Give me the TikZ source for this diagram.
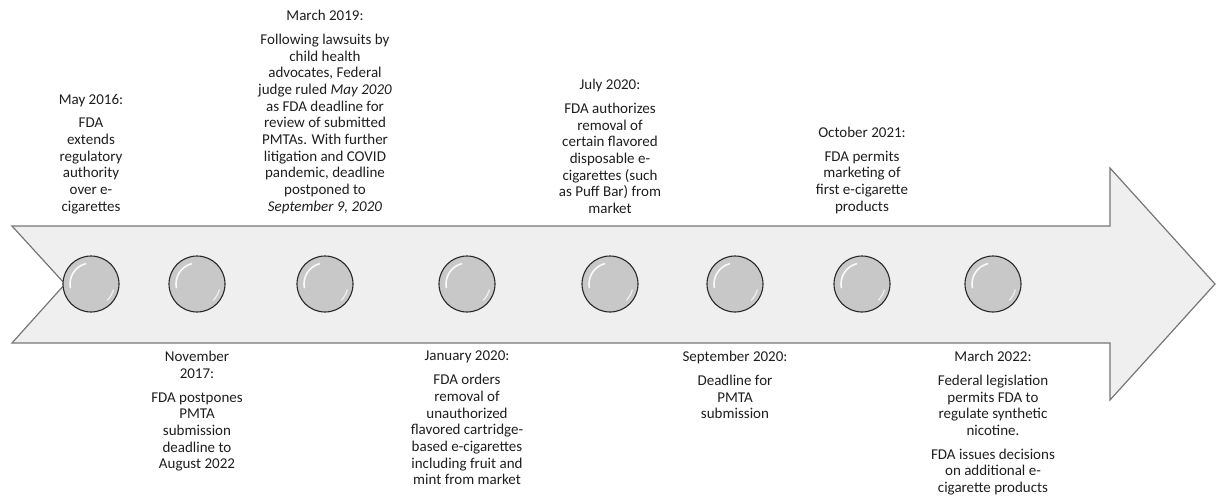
\documentclass[tikz,border=0pt]{standalone}
\usepackage{fontspec}
\setmainfont{Carlito}
\usetikzlibrary{calc}
\definecolor{ArrowFill}{RGB}{239,239,239}
\definecolor{ArrowLine}{RGB}{118,118,118}
\definecolor{BallFill}{RGB}{200,200,200}
\definecolor{BallLine}{RGB}{40,40,40}
\definecolor{TextDark}{RGB}{30,30,30}

\begin{document}
\begin{tikzpicture}[x=1pt,y=-1pt,
  ball/.style={circle,draw=BallLine,fill=BallFill,line width=1.1pt,minimum size=56pt,inner sep=0pt},
  event/.style={align=center,text=TextDark,inner sep=0pt,font=\fontsize{15}{16.7}\selectfont},
  topevent/.style={event,anchor=south},
  lowevent/.style={event,anchor=north}]
  \useasboundingbox (0,0) rectangle (1216,496);
  % timeline arrow
  \draw[ArrowLine,fill=ArrowFill,line width=1.2pt]
    (12,226) -- (1110,226) -- (1110,168) -- (1215,284) -- (1110,400)
    -- (1110,343) -- (12,343) -- (65,284) -- cycle;
  % milestones
  \foreach \n/\x in {1/91,2/197,3/325,4/467,5/610,6/735,7/862,8/993}{
    \node[ball] (c\n) at (\x,284) {};
    \draw[white,line width=1.6pt,line cap=round,opacity=0.9]
      ($(c\n)+(105:21pt)$) arc[start angle=105,end angle=190,radius=21pt];
    \draw[white,line width=1.3pt,line cap=round,opacity=0.7]
      ($(c\n)+(-15:23pt)$) arc[start angle=-15,end angle=-45,radius=23pt];
  }
  % events above
  \node[topevent] (may16) at (91,214) {May 2016:\\[7pt]FDA\\extends\\regulatory\\authority\\over e-\\cigarettes};
  \node[topevent] (mar19) at (325,214) {March 2019:\\[7pt]Following lawsuits by\\child health\\advocates, Federal\\judge ruled \textit{May 2020}\\as FDA deadline for\\review of submitted\\PMTAs. With further\\litigation and COVID\\pandemic, deadline\\postponed to\\\textit{September 9, 2020}};
  \node[topevent] (jul20) at (610,214) {July 2020:\\[7pt]FDA authorizes\\removal of\\certain flavored\\disposable e-\\cigarettes (such\\as Puff Bar) from\\market};
  \node[topevent] (oct21) at (862,214) {October 2021:\\[7pt]FDA permits\\marketing of\\first e-cigarette\\products};
  % events below
  \node[lowevent] (nov17) at (197,351) {November\\2017:\\[7pt]FDA postpones\\PMTA\\submission\\deadline to\\August 2022};
  \node[lowevent] (jan20) at (467,351) {January 2020:\\[7pt]FDA orders\\removal of\\unauthorized\\flavored cartridge-\\based e-cigarettes\\including fruit and\\mint from market};
  \node[lowevent] (sep20) at (735,351) {September 2020:\\[7pt]Deadline for\\PMTA\\submission};
  \node[lowevent] (mar22) at (993,351) {March 2022:\\[7pt]Federal legislation\\permits FDA to\\regulate synthetic\\nicotine.\\[7pt]FDA issues decisions\\on additional e-\\cigarette products};
\end{tikzpicture}
\end{document}
